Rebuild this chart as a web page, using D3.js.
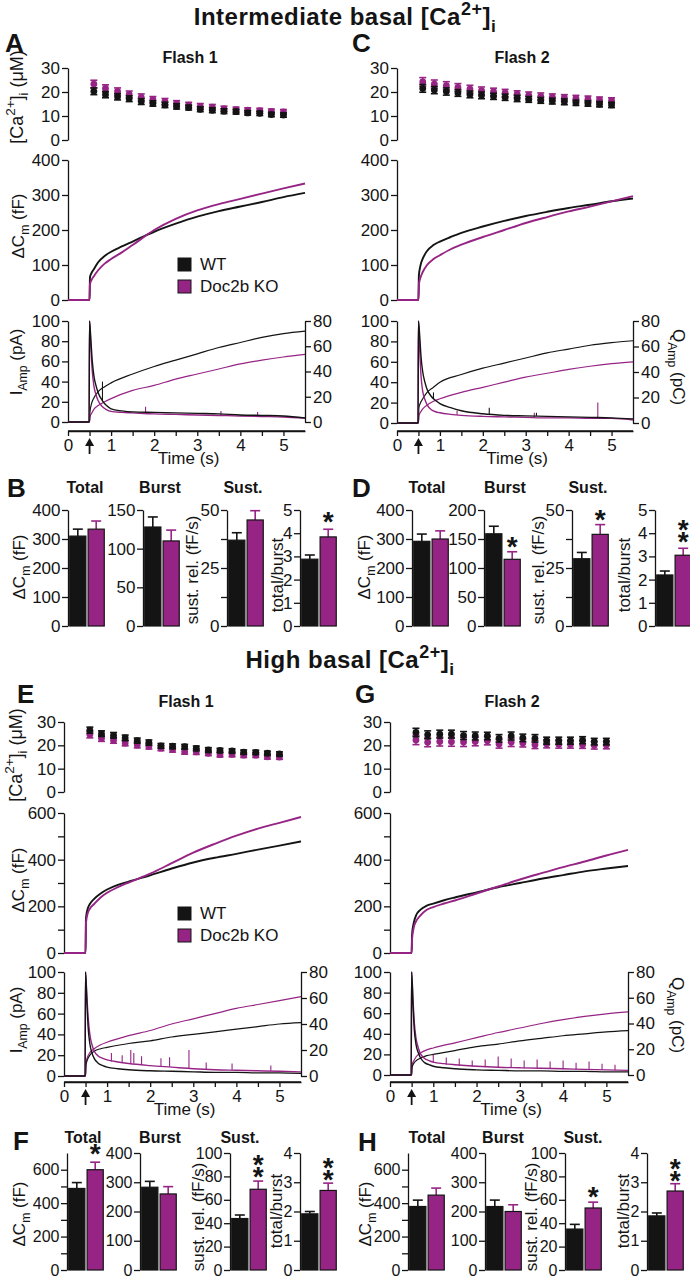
<!DOCTYPE html>
<html><head><meta charset="utf-8">
<script src="https://cdn.jsdelivr.net/npm/d3@7/dist/d3.min.js"></script>
<style>
html,body{margin:0;padding:0;background:#fff;}
svg{display:block;}
text{font-family:"Liberation Sans",Arial,Helvetica,sans-serif;fill:#141414;}
</style></head>
<body><svg id="fig" width="690" height="1280"></svg>
<script>
// ================= DATA =================
const groups = ["WT", "Doc2b KO"];
const timeTicks = [0, 0.5, 1, 1.5, 2, 2.5, 3, 3.5, 4, 4.5, 5];
const caTicks = [0, 10, 20, 30];
const iTicks = [0, 20, 40, 60, 80, 100];
const qTicks = [0, 20, 40, 60, 80];

// [Ca2+]i sample times (s)
const caTimes = [0.6, 0.87, 1.15, 1.42, 1.7, 1.97, 2.25, 2.52, 2.8, 3.07, 3.35, 3.62, 3.9, 4.17, 4.45, 4.72, 5.0];
const caA_wt = [20.3, 18.9, 18, 17.2, 16, 15.2, 14.6, 14, 13.5, 12.8, 12.4, 12, 11.8, 11.3, 11.1, 10.6, 10.4];
const caA_wtErr = [1.4, 1.3, 1.3, 1.2, 1.2, 1.1, 1.1, 1.1, 1.0, 1.0, 1.0, 1.0, 1.0, 0.9, 0.9, 0.9, 0.9];
const caA_ko = [23.3, 21.5, 20.2, 19, 17.8, 16.8, 16, 15.2, 14.5, 14, 13.7, 13, 12.6, 12.4, 12.2, 11.9, 11.7];
const caA_koErr = [1.6, 1.5, 1.5, 1.4, 1.4, 1.3, 1.3, 1.2, 1.2, 1.2, 1.1, 1.1, 1.1, 1.0, 1.0, 1.0, 1.0];
const caC_wt = [21.5, 20.8, 20.2, 19.6, 19, 18.6, 18.2, 17.8, 17.3, 16.9, 16.5, 16.2, 15.9, 15.5, 15.2, 14.9, 14.6];
const caC_wtErr = [1.6, 1.5, 1.5, 1.4, 1.4, 1.4, 1.3, 1.3, 1.3, 1.2, 1.2, 1.2, 1.2, 1.1, 1.1, 1.1, 1.1];
const caC_ko = [24.2, 23.3, 22.6, 21.9, 21.2, 20.6, 20.1, 19.6, 19.1, 18.6, 18.2, 17.9, 17.6, 17.3, 17, 16.7, 16.4];
const caC_koErr = [1.8, 1.7, 1.7, 1.6, 1.6, 1.5, 1.5, 1.5, 1.4, 1.4, 1.4, 1.3, 1.3, 1.3, 1.3, 1.2, 1.2];
const caE_wt = [26.5, 25, 24.3, 23.2, 22, 21.2, 19.8, 19.6, 19.4, 18.7, 18, 17.8, 17.6, 17.1, 17, 16.6, 16.3];
const caE_wtErr = [1.3, 1.2, 1.2, 1.2, 1.1, 1.1, 1.0, 1.0, 1.0, 1.0, 1.0, 0.9, 0.9, 0.9, 0.9, 0.9, 0.9];
const caE_ko = [24.6, 23, 22.2, 21, 20.1, 19.6, 18.8, 18.2, 17.3, 17.2, 16.6, 16, 16.1, 15.8, 15.8, 15.1, 15];
const caE_koErr = [1.4, 1.3, 1.3, 1.2, 1.2, 1.2, 1.1, 1.1, 1.1, 1.1, 1.0, 1.0, 1.0, 1.0, 1.0, 1.0, 1.0];
const caG_wt = [25.5, 24.5, 24.8, 24.8, 24.2, 24, 24, 23, 24, 23.2, 23, 22, 22, 22, 22.2, 21.6, 21.6];
const caG_wtErr = [1.8, 1.7, 1.7, 1.7, 1.7, 1.7, 1.6, 1.6, 1.7, 1.6, 1.6, 1.5, 1.5, 1.5, 1.5, 1.4, 1.4];
const caG_ko = [22.3, 21.3, 21.6, 21.5, 21.4, 21.6, 22, 20.6, 21.3, 21, 20.3, 20.6, 20.5, 20.4, 20.3, 20, 20.1];
const caG_koErr = [2.0, 1.9, 1.9, 1.9, 1.9, 1.8, 1.8, 1.8, 1.8, 1.7, 1.7, 1.7, 1.7, 1.6, 1.6, 1.6, 1.6];

// Capacitance traces (fF)
const cmTimes = [0, 0.5, 0.51, 0.55, 0.6, 0.7, 0.85, 1, 1.25, 1.5, 2, 2.5, 3, 3.5, 4, 4.5, 5, 5.5];
const cmA_wt = [0, 0, 65, 78, 88, 108, 126, 138, 153, 167, 195, 218, 238, 254, 267, 280, 294, 306];
const cmA_ko = [0, 0, 45, 58, 68, 85, 104, 117, 136, 157, 200, 232, 256, 274, 289, 304, 319, 333];
const cmC_wt = [0, 0, 70, 100, 118, 140, 157, 167, 180, 192, 210, 226, 240, 252, 263, 272, 282, 290];
const cmC_ko = [0, 0, 45, 65, 80, 100, 117, 128, 145, 158, 180, 200, 220, 237, 253, 267, 282, 297];
const cmE_wt = [0, 0, 150, 190, 210, 232, 255, 272, 292, 306, 333, 362, 388, 408, 425, 443, 460, 478];
const cmE_ko = [0, 0, 130, 170, 190, 210, 238, 258, 282, 302, 340, 385, 430, 468, 503, 533, 558, 583];
const cmG_wt = [0, 0, 80, 130, 160, 185, 203, 212, 226, 238, 260, 282, 300, 318, 334, 350, 362, 373];
const cmG_ko = [0, 0, 60, 110, 135, 160, 185, 197, 212, 225, 255, 285, 315, 342, 368, 392, 418, 442];

// Amperometric current traces (pA)
const iTimes = [0, 0.49, 0.5, 0.53, 0.56, 0.6, 0.65, 0.7, 0.8, 0.9, 1, 1.25, 1.5, 2, 2.5, 3, 3.5, 4, 4.5, 5, 5.5];
const iA_wt = [0, 0, 100, 82, 62, 46, 36, 29, 21, 16, 13, 11, 10, 9.5, 9, 8.5, 8, 7, 6.5, 6, 4];
const iA_ko = [0, 0, 100, 75, 52, 36, 27, 21, 15, 12, 10.5, 9.5, 9, 8, 7.5, 7, 6.5, 6, 5.5, 5, 4];
const iC_wt = [0, 0, 100, 85, 65, 50, 40, 33, 26, 22, 19, 15, 12, 9, 7.5, 7, 6.5, 6, 5.5, 5, 4];
const iC_ko = [0, 0, 100, 70, 46, 31, 23, 18, 13, 11, 10, 8.5, 7.5, 6.5, 6, 5.5, 5, 5, 4.5, 4.5, 3];
const iE_wt = [0, 0, 100, 72, 47, 31, 22, 17, 12, 10, 8.5, 7, 6, 5, 4.5, 4, 3.5, 3.5, 3, 3, 2.5];
const iE_ko = [0, 0, 100, 78, 57, 40, 30, 24, 19, 17, 15.5, 13.5, 12, 10, 8.5, 7, 6, 5.5, 5, 4.5, 4];
const iG_wt = [0, 0, 100, 70, 45, 30, 22, 17, 12, 10, 8.5, 7, 6, 5, 4.5, 4, 4, 3.5, 3.5, 3, 3];
const iG_ko = [0, 0, 100, 75, 52, 36, 27, 21, 16, 14, 12.5, 11, 10, 8.5, 7.5, 7, 6.5, 6, 5.5, 5, 4.5];
// spikes: [time, base pA, peak pA]
const spA_wt = [[0.8, 21, 40]];
const spA_ko = [[1.8, 8.5, 15], [3.55, 6.5, 11], [4.4, 5.5, 10]];
const spC_wt = [[0.85, 24, 30], [2.15, 8.5, 15], [3.25, 7, 10]];
const spC_ko = [[1.4, 8, 12], [3.2, 5.5, 10], [4.68, 4.5, 20]];
const spE_wt = [];
const spE_ko = [[1.1, 14, 22], [1.35, 13, 20], [1.55, 12, 25], [1.62, 12, 22], [1.8, 11, 19], [2.25, 9.5, 17], [2.45, 9, 18], [2.9, 7.5, 25], [3.3, 6.5, 13], [3.9, 6, 12], [4.8, 5, 10]];
const spG_wt = [];
const spG_ko = [[1.0, 12, 20], [1.3, 10, 17], [1.6, 9, 16], [1.9, 8, 14], [2.2, 7.5, 15], [2.5, 7, 18], [2.8, 7, 16], [3.1, 6.5, 14], [3.4, 6, 15], [3.7, 6, 13], [4.0, 5.5, 14], [4.3, 5, 12], [4.6, 5, 13], [4.9, 5, 11], [5.2, 4.5, 10]];

// Amperometric charge (pC)
const qTimes = [0, 0.5, 0.51, 0.55, 0.6, 0.7, 0.85, 1, 1.5, 2, 2.5, 3, 3.5, 4, 4.5, 5, 5.5];
const qA_wt = [0, 0, 8, 15, 19, 24, 28, 31, 38, 44, 49, 54, 59, 63, 67, 70, 72];
const qA_ko = [0, 0, 4, 7, 10, 13, 16, 18.5, 25, 29, 34, 38, 42, 46, 49, 51.5, 53.5];
const qC_wt = [0, 0, 12, 16, 19, 24, 28, 32, 38, 43, 47, 51, 55, 58, 61, 63, 64.5];
const qC_ko = [0, 0, 6, 8.5, 11, 14, 17, 19, 24, 28, 32, 36, 39, 42, 44.5, 46.5, 48];
const qE_wt = [0, 0, 8, 13, 16, 19, 21, 22, 25, 27, 30, 32, 34, 36, 38, 40, 41];
const qE_ko = [0, 0, 10, 15, 18, 21, 24, 26, 31, 35, 40, 44, 48, 52, 55, 58, 61];
const qG_wt = [0, 0, 6, 9, 11, 13, 15, 16, 19, 22, 24, 26.5, 28.5, 30.5, 32, 33.5, 34.5];
const qG_ko = [0, 0, 8, 11, 14, 17, 19.5, 21, 25, 29, 33, 36.5, 40, 43, 45.5, 47.5, 49];

// Bar summaries [WT, KO]
const totalB = [310, 334], totalB_err = [24, 28];
const burstB = [128, 110], burstB_err = [13, 14];
const sustB = [37, 45.7], sustB_err = [3.2, 4];
const ratioB = [2.88, 3.84], ratioB_err = [0.18, 0.33];
const starsB = [0, 0, 0, 1];
const totalD = [292, 300], totalD_err = [25, 28];
const burstD = [159, 115], burstD_err = [13, 13];
const sustD = [29, 39.5], sustD_err = [2.7, 4.2];
const ratioD = [2.2, 3.05], ratioD_err = [0.17, 0.3];
const starsD = [0, 1, 1, 2];
const totalF = [488, 600], totalF_err = [35, 45];
const burstF = [283, 260], burstF_err = [20, 25];
const sustF = [44, 69], sustF_err = [3, 7];
const ratioF = [1.92, 2.72], ratioF_err = [0.08, 0.25];
const starsF = [1, 0, 2, 2];
const totalH = [380, 448], totalH_err = [38, 42];
const burstH = [217, 200], burstH_err = [22, 23];
const sustH = [35, 53], sustH_err = [4, 5];
const ratioH = [1.85, 2.7], ratioH_err = [0.1, 0.25];
const starsH = [0, 0, 1, 2];

// ================= DRAWING =================
const FONT = '"Liberation Sans", Arial, Helvetica, sans-serif';
const INK = "#141414";
const PURPLE = "#962485";
const svg = d3.select("#fig");
svg.append("rect").attr("width", 690).attr("height", 1280).attr("fill", "#fff");

function fixAxis(g, fs) {
  g.attr("font-family", FONT).attr("font-size", fs);
  g.selectAll(".domain, .tick line").attr("stroke", INK).attr("stroke-width", 1.3);
  g.selectAll(".tick text").attr("fill", INK);
}

function rich(x, y, parts, fs, opts = {}) {
  const t = svg.append("text")
    .attr("font-size", fs)
    .attr("font-weight", opts.bold ? "bold" : "normal")
    .attr("text-anchor", opts.anchor || "middle")
    .attr("transform", `translate(${x},${y}) rotate(${opts.rotate || 0})`);
  if (opts.spacing) t.attr("letter-spacing", opts.spacing);
  let shift = 0;
  parts.forEach(p => {
    const s = typeof p === "string" ? { t: p } : p;
    let target = 0, size = fs;
    if (s.sub) { target = fs * 0.28; size = fs * 0.72; }
    if (s.sup) { target = -fs * 0.42; size = fs * 0.75; }
    t.append("tspan").attr("dy", target - shift).attr("font-size", size).text(s.t);
    shift = target;
  });
  return t;
}

function label(x, y, txt, fs, bold, anchor) {
  return svg.append("text").attr("x", x).attr("y", y).attr("font-size", fs)
    .attr("font-weight", bold ? "bold" : "normal").attr("text-anchor", anchor || "middle").text(txt);
}

function caSeries(x, y, vals, errs, color) {
  const d = caTimes.map((t, i) => ({ t, v: vals[i], e: errs[i] }));
  const g = svg.append("g").attr("stroke", color).attr("fill", color);
  g.selectAll("line.v").data(d).join("line").attr("class", "v")
    .attr("x1", p => x(p.t)).attr("x2", p => x(p.t))
    .attr("y1", p => y(p.v - p.e)).attr("y2", p => y(p.v + p.e)).attr("stroke-width", 1.6);
  g.selectAll("line.ct").data(d).join("line").attr("class", "ct")
    .attr("x1", p => x(p.t) - 3.5).attr("x2", p => x(p.t) + 3.5)
    .attr("y1", p => y(p.v + p.e)).attr("y2", p => y(p.v + p.e)).attr("stroke-width", 1.6);
  g.selectAll("line.cb").data(d).join("line").attr("class", "cb")
    .attr("x1", p => x(p.t) - 3.5).attr("x2", p => x(p.t) + 3.5)
    .attr("y1", p => y(p.v - p.e)).attr("y2", p => y(p.v - p.e)).attr("stroke-width", 1.6);
  g.selectAll("circle").data(d).join("circle")
    .attr("cx", p => x(p.t)).attr("cy", p => y(p.v)).attr("r", 3.4).attr("stroke", "none");
}

function trace(x, y, times, vals, color, w) {
  const pts = times.map((t, i) => [t, vals[i]]);
  svg.append("path").datum(pts)
    .attr("d", d3.line().x(p => x(p[0])).y(p => y(p[1])).curve(d3.curveMonotoneX))
    .attr("fill", "none").attr("stroke", color).attr("stroke-width", w).attr("stroke-linejoin", "round");
}

function spikes(x, y, list, color) {
  svg.append("g").selectAll("line").data(list).join("line")
    .attr("x1", s => x(s[0])).attr("x2", s => x(s[0]))
    .attr("y1", s => y(s[1])).attr("y2", s => y(s[2]))
    .attr("stroke", color).attr("stroke-width", 1.1);
}

function tracePanel(P) {
  const x = d3.scaleLinear().domain([0, 5.5]).range([P.x0, P.x1]);
  // ---- Ca
  const yCa = d3.scaleLinear().domain([0, 30]).range([P.caY0, P.caY30]);
  fixAxis(svg.append("g").attr("transform", `translate(${P.x0},0)`)
    .call(d3.axisLeft(yCa).tickValues(caTicks).tickSize(6).tickPadding(2).tickSizeOuter(0)), 17);
  caSeries(x, yCa, P.caKo, P.caKoErr, PURPLE);
  caSeries(x, yCa, P.caWt, P.caWtErr, INK);
  // ---- Cm
  const yCm = d3.scaleLinear().domain([0, P.cmMax]).range([P.cmY0, P.cmYmax]);
  fixAxis(svg.append("g").attr("transform", `translate(${P.x0},0)`)
    .call(d3.axisLeft(yCm).tickValues(P.cmTicks).tickFormat(d => P.cmLabels.includes(d) ? d : "")
      .tickSize(6).tickPadding(2).tickSizeOuter(0)), 17);
  trace(x, yCm, cmTimes, P.cmWt, INK, 1.9);
  trace(x, yCm, cmTimes, P.cmKo, PURPLE, 1.9);
  // ---- I / Q
  const yI = d3.scaleLinear().domain([0, 100]).range([P.iY0, P.iY100]);
  const yQ = d3.scaleLinear().domain([0, 80]).range([P.iY0, P.iY100]);
  fixAxis(svg.append("g").attr("transform", `translate(${P.x0},0)`)
    .call(d3.axisLeft(yI).tickValues(iTicks).tickSize(6).tickPadding(2).tickSizeOuter(0)), 17);
  fixAxis(svg.append("g").attr("transform", `translate(${P.x1},0)`)
    .call(d3.axisRight(yQ).tickValues(qTicks).tickSize(6).tickPadding(2).tickSizeOuter(0)), 17);
  trace(x, yQ, qTimes, P.qKo, PURPLE, 1.2);
  trace(x, yQ, qTimes, P.qWt, INK, 1.2);
  trace(x, yI, iTimes, P.iKo, PURPLE, 1.4);
  spikes(x, yI, P.spKo, PURPLE);
  trace(x, yI, iTimes, P.iWt, INK, 1.4);
  spikes(x, yI, P.spWt, INK);
  // ---- time axis
  fixAxis(svg.append("g").attr("transform", `translate(0,${P.tAxisY})`)
    .call(d3.axisBottom(x).tickValues(timeTicks).tickFormat(d => Number.isInteger(d) ? d : "")
      .tickSize(5).tickPadding(3).tickSizeOuter(0)), 17);
  svg.append("line").attr("x1", x(0)).attr("x2", x(5.5)).attr("y1", P.tAxisY).attr("y2", P.tAxisY)
    .attr("stroke", INK).attr("stroke-width", 1.3);
  label(x(2.8), P.tAxisY + 33, "Time (s)", 17, false);
  // flash arrow
  const ax = x(0.5), tip = P.tAxisY + 7;
  svg.append("line").attr("x1", ax).attr("x2", ax).attr("y1", tip + 4).attr("y2", tip + 16)
    .attr("stroke", INK).attr("stroke-width", 1.8);
  svg.append("path").attr("d", `M${ax},${tip} L${ax - 4.5},${tip + 8} L${ax + 4.5},${tip + 8} Z`).attr("fill", INK);
  return x;
}

// ---------- Trace panels ----------
tracePanel({
  x0: 68, x1: 305, caY0: 140, caY30: 68, caWt: caA_wt, caWtErr: caA_wtErr, caKo: caA_ko, caKoErr: caA_koErr,
  cmY0: 300, cmYmax: 160, cmMax: 400, cmTicks: [0, 100, 200, 300, 400], cmLabels: [0, 100, 200, 300, 400],
  cmWt: cmA_wt, cmKo: cmA_ko, iY0: 422, iY100: 321, iWt: iA_wt, iKo: iA_ko, spWt: spA_wt, spKo: spA_ko,
  qWt: qA_wt, qKo: qA_ko, tAxisY: 431
});
tracePanel({
  x0: 397, x1: 633, caY0: 140, caY30: 68, caWt: caC_wt, caWtErr: caC_wtErr, caKo: caC_ko, caKoErr: caC_koErr,
  cmY0: 300, cmYmax: 160, cmMax: 400, cmTicks: [0, 100, 200, 300, 400], cmLabels: [0, 100, 200, 300, 400],
  cmWt: cmC_wt, cmKo: cmC_ko, iY0: 423, iY100: 321, iWt: iC_wt, iKo: iC_ko, spWt: spC_wt, spKo: spC_ko,
  qWt: qC_wt, qKo: qC_ko, tAxisY: 431
});
tracePanel({
  x0: 64, x1: 301, caY0: 792, caY30: 722, caWt: caE_wt, caWtErr: caE_wtErr, caKo: caE_ko, caKoErr: caE_koErr,
  cmY0: 953, cmYmax: 813, cmMax: 600, cmTicks: [0, 100, 200, 300, 400, 500, 600], cmLabels: [0, 200, 400, 600],
  cmWt: cmE_wt, cmKo: cmE_ko, iY0: 1076, iY100: 972, iWt: iE_wt, iKo: iE_ko, spWt: spE_wt, spKo: spE_ko,
  qWt: qE_wt, qKo: qE_ko, tAxisY: 1082
});
tracePanel({
  x0: 390, x1: 628, caY0: 792, caY30: 722, caWt: caG_wt, caWtErr: caG_wtErr, caKo: caG_ko, caKoErr: caG_koErr,
  cmY0: 953, cmYmax: 813, cmMax: 600, cmTicks: [0, 100, 200, 300, 400, 500, 600], cmLabels: [0, 200, 400, 600],
  cmWt: cmG_wt, cmKo: cmG_ko, iY0: 1075, iY100: 972, iWt: iG_wt, iKo: iG_ko, spWt: spG_wt, spKo: spG_ko,
  qWt: qG_wt, qKo: qG_ko, tAxisY: 1082
});

// ---------- Bar panels ----------
function barPanel(P) {
  const y = d3.scaleLinear().domain([0, P.max]).range([P.y0, P.yTop]);
  const xb = d3.scaleBand().domain(groups).range([P.axisX + 1, P.axisX + 1 + P.width]).paddingInner(0.12).paddingOuter(0.04);
  fixAxis(svg.append("g").attr("transform", `translate(${P.axisX},0)`)
    .call(d3.axisLeft(y).tickValues(P.ticks).tickFormat(d => P.labels.includes(d) ? d : "")
      .tickSize(6).tickPadding(1.5).tickSizeOuter(0)), P.fs);
  const d = groups.map((k, i) => ({ k, v: P.vals[i], e: P.errs[i], c: i ? PURPLE : INK }));
  const g = svg.append("g");
  g.selectAll("line.e").data(d).join("line")
    .attr("x1", p => xb(p.k) + xb.bandwidth() / 2).attr("x2", p => xb(p.k) + xb.bandwidth() / 2)
    .attr("y1", p => y(p.v)).attr("y2", p => y(p.v + p.e)).attr("stroke", p => p.c).attr("stroke-width", 1.6);
  g.selectAll("line.c").data(d).join("line")
    .attr("x1", p => xb(p.k) + xb.bandwidth() / 2 - 5).attr("x2", p => xb(p.k) + xb.bandwidth() / 2 + 5)
    .attr("y1", p => y(p.v + p.e)).attr("y2", p => y(p.v + p.e)).attr("stroke", p => p.c).attr("stroke-width", 1.6);
  g.selectAll("rect").data(d).join("rect")
    .attr("x", p => xb(p.k)).attr("width", xb.bandwidth())
    .attr("y", p => y(p.v)).attr("height", p => y(0) - y(p.v))
    .attr("fill", p => p.c).attr("stroke", INK).attr("stroke-width", 1.2);
  // significance stars (stacked in one text element)
  if (P.stars > 0) {
    const off = P.starOff || 12;
    const kx = xb(groups[1]) + xb.bandwidth() / 2;
    const base = y(P.vals[1] + P.errs[1]) - off + 16;
    const st = svg.append("text").attr("text-anchor", "middle")
      .attr("font-size", 28).attr("font-weight", "bold");
    for (let s = 0; s < P.stars; s++) {
      st.append("tspan").attr("x", kx).attr("y", base - (P.stars - 1 - s) * 12).text("*");
    }
  }
}

function barRow(cfg) {
  cfg.subs.forEach(s => barPanel(Object.assign({ y0: cfg.y0, yTop: cfg.yTop, width: 36, fs: cfg.fs }, s)));
}

barRow({ y0: 626, yTop: 510, fs: 17, subs: [
  { axisX: 68, max: 400, ticks: [0, 100, 200, 300, 400], labels: [0, 100, 200, 300, 400], vals: totalB, errs: totalB_err, stars: starsB[0] },
  { axisX: 143, max: 150, ticks: [0, 50, 100, 150], labels: [0, 50, 100, 150], vals: burstB, errs: burstB_err, stars: starsB[1] },
  { axisX: 227, max: 50, ticks: [0, 12.5, 25, 37.5, 50], labels: [0, 25, 50], vals: sustB, errs: sustB_err, stars: starsB[2] },
  { axisX: 300, max: 5, ticks: [0, 1, 2, 3, 4, 5], labels: [0, 1, 2, 3, 4, 5], vals: ratioB, errs: ratioB_err, stars: starsB[3], starOff: 14 }
]});
barRow({ y0: 626, yTop: 510, fs: 17, subs: [
  { axisX: 412, max: 400, ticks: [0, 100, 200, 300, 400], labels: [0, 100, 200, 300, 400], vals: totalD, errs: totalD_err, stars: starsD[0] },
  { axisX: 484, max: 200, ticks: [0, 50, 100, 150, 200], labels: [0, 50, 100, 150, 200], vals: burstD, errs: burstD_err, stars: starsD[1] },
  { axisX: 572, max: 50, ticks: [0, 12.5, 25, 37.5, 50], labels: [0, 25, 50], vals: sustD, errs: sustD_err, stars: starsD[2] },
  { axisX: 655, max: 5, ticks: [0, 1, 2, 3, 4, 5], labels: [0, 1, 2, 3, 4, 5], vals: ratioD, errs: ratioD_err, stars: starsD[3], starOff: 13 }
]});
barRow({ y0: 1270, yTop: 1153, fs: 16, subs: [
  { axisX: 67, max: 700, ticks: [0, 100, 200, 300, 400, 500, 600], labels: [0, 200, 400, 600], vals: totalF, errs: totalF_err, stars: starsF[0], starOff: 15 },
  { axisX: 140, max: 400, ticks: [0, 100, 200, 300, 400], labels: [0, 100, 200, 300, 400], vals: burstF, errs: burstF_err, stars: starsF[1] },
  { axisX: 230, max: 100, ticks: [0, 20, 40, 60, 80, 100], labels: [0, 20, 40, 60, 80, 100], vals: sustF, errs: sustF_err, stars: starsF[2], starOff: 11 },
  { axisX: 300, max: 4, ticks: [0, 1, 2, 3, 4], labels: [0, 1, 2, 3, 4], vals: ratioF, errs: ratioF_err, stars: starsF[3], starOff: 10 }
]});
barRow({ y0: 1270, yTop: 1153, fs: 16, subs: [
  { axisX: 408, max: 700, ticks: [0, 100, 200, 300, 400, 500, 600], labels: [0, 200, 400, 600], vals: totalH, errs: totalH_err, stars: starsH[0] },
  { axisX: 485, max: 400, ticks: [0, 100, 200, 300, 400], labels: [0, 100, 200, 300, 400], vals: burstH, errs: burstH_err, stars: starsH[1] },
  { axisX: 565, max: 100, ticks: [0, 20, 40, 60, 80, 100], labels: [0, 20, 40, 60, 80, 100], vals: sustH, errs: sustH_err, stars: starsH[2] },
  { axisX: 647, max: 4, ticks: [0, 1, 2, 3, 4], labels: [0, 1, 2, 3, 4], vals: ratioH, errs: ratioH_err, stars: starsH[3], starOff: 10 }
]});

// ---------- Texts ----------
rich(345, 25, ["Intermediate basal [Ca", { t: "2+", sup: true }, "]", { t: "i", sub: true }], 24, { bold: true, spacing: 0.5 });
rich(350, 668, ["High basal [Ca", { t: "2+", sup: true }, "]", { t: "i", sub: true }], 24, { bold: true, spacing: 0.5 });

[["A", 5, 52], ["C", 352, 52], ["B", 7, 497], ["D", 352, 497], ["E", 17, 703], ["G", 355, 703], ["F", 13, 1150], ["H", 358, 1151]]
  .forEach(([t, x, y]) => label(x, y, t, 26, true, "start"));

label(190, 63, "Flash 1", 16, true);
label(522, 63, "Flash 2", 16, true);
label(186, 707, "Flash 1", 16, true);
label(512, 707, "Flash 2", 16, true);

[[85, 160, 243, 493], [427, 505, 588, 493], [83, 160, 240, 1143], [427, 503, 583, 1143]].forEach(([a, b, c, yy]) => {
  label(a, yy, "Total", 16, true); label(b, yy, "Burst", 16, true); label(c, yy, "Sust.", 16, true);
});

// y-axis titles of trace panels
const caLab = ["[Ca", { t: "2+", sup: true }, "]", { t: "i", sub: true }, " (μM)"];
const cmLab = ["ΔC", { t: "m", sub: true }, " (fF)"];
const iLab = ["I", { t: "Amp", sub: true }, " (pA)"];
const qLab = ["Q", { t: "Amp", sub: true }, " (pC)"];
rich(23, 97, caLab, 18, { rotate: -90 });
rich(24, 226, cmLab, 17, { rotate: -90 });
rich(22, 362, iLab, 17, { rotate: -90 });
rich(673, 367, qLab, 17, { rotate: 90 });
rich(22, 755, caLab, 18, { rotate: -90 });
rich(24, 880, cmLab, 17, { rotate: -90 });
rich(22, 1020, iLab, 17, { rotate: -90 });
rich(672, 1015, qLab, 17, { rotate: 90 });

// y-axis titles of bar panels
const sustLab = ["sust. rel. (fF/s)"];
const tbLab = ["total/burst"];
[[25, 198, 283, 567, 570, 575], [370, 544, 630, 567, 570, 575], [25, 204, 282, 1214, 1217, 1211], [371, 537, 629, 1214, 1217, 1211]]
  .forEach(([a, b, c, y1, y2, y3]) => {
    rich(a, y1, cmLab, 17, { rotate: -90 });
    rich(b, y2, sustLab, 17, { rotate: -90 });
    rich(c, y3, tbLab, 17, { rotate: -90 });
  });

// legends
function legend(x, y) {
  const g = svg.append("g").attr("transform", `translate(${x},${y})`);
  groups.forEach((k, i) => {
    g.append("rect").attr("x", 0).attr("y", i * 22).attr("width", 13).attr("height", 13)
      .attr("fill", i ? PURPLE : INK).attr("stroke", INK).attr("stroke-width", 1);
    g.append("text").attr("x", 22).attr("y", i * 22 + 12).attr("font-size", 17).text(k);
  });
}
legend(178, 258);
legend(178, 907);
</script></body></html>
